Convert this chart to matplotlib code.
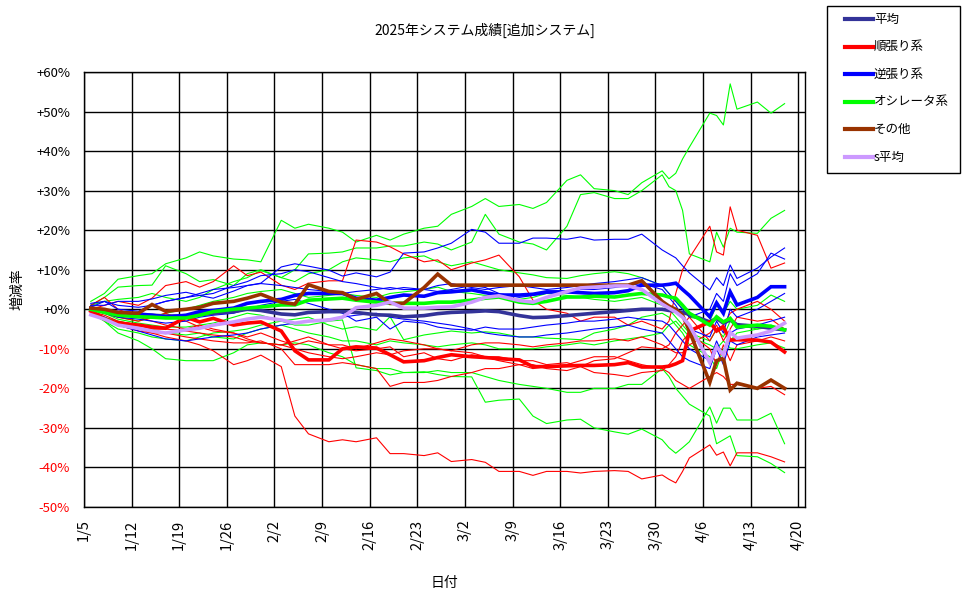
import matplotlib

matplotlib.use("Agg")
import matplotlib.pyplot as plt
import pandas as pd
from matplotlib.lines import Line2D
from matplotlib.patches import Rectangle
from matplotlib.ticker import FuncFormatter

plt.rcParams["font.family"] = ["Noto Sans CJK JP", "DejaVu Sans"]

# sample dates (2025), roughly every other trading day, daily in early April
dates = [
    "1/6", "1/8", "1/10", "1/13", "1/15", "1/17", "1/20", "1/22", "1/24",
    "1/27", "1/29", "1/31", "2/3", "2/5", "2/7", "2/10", "2/12", "2/14",
    "2/17", "2/19", "2/21", "2/24", "2/26", "2/28", "3/3", "3/5", "3/7",
    "3/10", "3/12", "3/14", "3/17", "3/19", "3/21", "3/24", "3/26", "3/28",
    "3/31", "4/1", "4/2", "4/3", "4/4", "4/7", "4/8", "4/9", "4/10", "4/11",
    "4/14", "4/16", "4/18",
]
tick_labels = ["1/5", "1/12", "1/19", "1/26", "2/2", "2/9", "2/16", "2/23",
               "3/2", "3/9", "3/16", "3/23", "3/30", "4/6", "4/13", "4/20"]

# thick lines: category averages (%)
avg_all = [0.0, -0.5, -1.0, -1.4, -1.5, -1.7, -1.7, -1.4, -1.0, -0.6, 0.0, -0.3,
           -1.2, -1.4, -0.8, -0.6, -0.6, -0.8, -1.4, -1.5, -1.9, -1.6, -1.1, -0.8,
           -0.6, -0.4, -0.6, -1.6, -2.1, -2.0, -1.6, -1.3, -1.0, -0.6, -0.3, 0.0,
           0.0, -0.3, -0.5, -0.8, -1.3, -3.2, -2.3, -3.5, -2.7, -3.9,
           -4.3, -4.8, -5.2]
avg_trend = [-0.5, -2.5, -3.5, -4.0, -4.5, -4.8, -2.0, -3.2, -2.3, -4.0, -3.5, -3.2,
             -5.5, -10.5, -12.8, -12.8, -10.0, -9.5, -9.8, -11.5, -13.3, -13.0, -12.2, -11.5,
             -12.0, -12.2, -12.5, -12.8, -14.5, -14.5, -14.3, -14.2, -14.2, -14.0, -13.5, -14.6,
             -14.6, -14.4, -13.8, -13.0, -5.5, -3.2, -5.5, -4.5, -7.8, -7.7,
             -7.8, -8.3, -10.8]
avg_counter = [0.3, -0.3, -0.8, -1.2, -1.5, -2.0, -1.5, -0.6, -0.3, 0.3, 1.5, 2.0,
               2.5, 3.5, 4.0, 4.0, 4.0, 2.8, 2.3, 3.0, 3.6, 3.3, 4.2, 4.4,
               4.9, 4.2, 3.6, 3.6, 3.8, 4.4, 4.4, 4.2, 4.0, 4.2, 4.7, 6.1,
               6.1, 6.3, 6.6, 5.0, 3.5, -1.9, 1.6, -1.0, 4.4, 1.1,
               3.0, 5.7, 5.7]
avg_osc = [0.0, -0.8, -1.5, -1.9, -2.0, -2.2, -2.2, -1.5, -0.6, 0.0, 0.3, 0.6,
           1.1, 1.1, 2.3, 2.6, 2.8, 2.3, 1.8, 1.5, 1.5, 1.5, 1.8, 1.8,
           2.3, 2.8, 3.1, 1.8, 1.5, 2.0, 3.1, 3.1, 3.3, 3.1, 3.6, 4.0,
           3.6, 3.1, 2.8, 1.0, -1.0, -4.0, -1.9, -3.2, -2.3, -4.5,
           -4.0, -4.3, -5.2]
avg_other = [0.3, 0.0, -0.8, -1.0, 1.2, -0.5, 0.0, 0.5, 1.5, 2.0, 2.8, 3.8,
             1.8, 1.3, 6.2, 4.5, 4.2, 2.5, 4.0, 1.5, 1.5, 5.5, 8.9, 6.1,
             6.1, 6.1, 6.1, 6.1, 6.1, 6.1, 6.1, 6.1, 6.1, 6.1, 6.1, 7.2,
             2.0, 0.8, 0.0, -1.5, -5.5, -18.5, -13.0, -12.4, -20.4, -18.7,
             -20.0, -17.9, -20.0]
avg_s = [-1.4, -2.5, -4.0, -4.8, -5.5, -6.0, -5.2, -4.8, -4.0, -3.2, -2.5, -2.0,
         -2.7, -3.5, -3.0, -2.7, -2.0, 0.4, 1.0, 1.8, 0.3, 0.3, 0.5, 0.6,
         1.8, 3.0, 3.4, 2.2, 1.8, 3.0, 4.5, 5.4, 5.6, 5.9, 5.9, 5.0,
         1.3, 0.3, -0.7, -2.0, -4.0, -13.5, -9.5, -11.5, -5.8, -7.3,
         -6.5, -5.5, -3.5]

# thin lines: individual systems (%)
osc_1 = [2, 4, 7.6, 8.5, 9, 11.5, 13, 14.5, 13.5, 12.7, 12.5, 12,
         22.5, 20.5, 21.5, 20.5, 19.5, 17, 18.7, 17.5, 19, 20.5, 21, 24,
         26, 28, 26, 26.5, 25.5, 27, 32.6, 34, 30.5, 30, 29, 32,
         35, 33, 34.4, 38, 41, 49.6, 49, 46.6, 57, 50.6, 52.4, 49.6, 52]
osc_2 = [1, 3, 5.6, 6, 6.1, 11, 9, 7, 7.5, 6, 9, 10,
         8, 10, 14, 14.2, 14.5, 15.5, 15.5, 16, 16, 17, 16.5, 15,
         17, 24, 19, 17, 16.5, 15, 21, 29, 29.5, 28, 28, 30,
         34, 31, 30, 25, 14, 12, 19.5, 15.7, 20.5, 19.5, 19.2, 23, 25]
osc_3 = [-1, -3, -5, -6, -7, -7.5, -8, -7, -6, -5.5, -5, -4,
         -3, -4, -4, -3, -2.7, -14.8, -15.5, -16.6, -16, -15.8, -16.5, -17,
         -17.1, -23.5, -23, -22.7, -27, -28.9, -28, -27.8, -30, -31, -31.6, -30.3,
         -33, -35, -36.4, -35, -33.5, -24.7, -28.8, -25, -25, -28, -28, -26.3, -34]
osc_4 = [0, -3, -6, -8, -10, -12.5, -13, -13, -13, -11, -9, -8.5,
         -9, -8.5, -9, -11, -12, -14, -15, -15, -16, -16, -15.5, -16,
         -16, -17, -18, -19, -19.5, -20, -21, -21, -20, -20, -19, -19,
         -15, -17, -20, -22, -24, -27, -34, -33, -32, -37, -37.3, -39, -41.3]
osc_5 = [-1, -2, -3, -4, -5, -6, -6.5, -6, -7, -7.5, -6, -5,
         -4, -5, -6, -7, -8, -8, -9, -8, -8.5, -9, -9.5, -9,
         -8.5, -9, -10, -10, -10, -9.5, -9, -8.5, -9, -8, -7.5, -7,
         -6, -4, -3, -5, -7, -9, -10, -8, -9.8, -10, -9, -8.5, -9.8]
osc_6 = [1, 2, 2.5, 3, 4, 3, 2, 3, 5, 7, 8, 9.8,
         8, 7, 9, 10, 12, 13, 12.5, 12, 13, 13.5, 12, 11,
         12, 11, 10, 9.2, 8.7, 8, 7.8, 8.5, 9, 9.5, 9, 8,
         6, 4, 2, 0, -2, -3, 1, -1, 2, 0, 1, 3.6, 2]
osc_7 = [0, -1, -2, -3, -2, -1, 0, 1, 2, 3, 4, 4.5,
         5, 4, 3, 3.5, 4, 3.5, 3, 4, 4.4, 5, 5.6, 4.5,
         4, 3.5, 3, 2.5, 3, 4, 3.5, 3, 2.5, 2, 2.5, 3,
         1, 0, -2, -4, -6, -8, -5, -7, -3, -4, -5, -4.5, -5]
osc_8 = [0.5, -1, -2.5, -3.5, -4, -4.5, -4.5, -4, -3.5, -2, -1, -1.5,
         -3, -2.5, -2, -4, -5, -4.4, -5.3, -1.9, -7.7, -6.5, -6, -5.5,
         -6, -5.7, -6, -7, -7, -7.3, -7.5, -7.7, -6, -5, -4, -2,
         -1, -2, -4, -6, -9, -12, -15, -10, -8, -6, -5, -4, -5.5]
trend_1 = [0, -2, -3.5, -5, -6, -7, -8, -9, -10.5, -14, -13, -11.6,
           -14.5, -27, -31.5, -33.5, -33, -33.5, -32.5, -36.5, -36.5, -37, -36.3, -38.5,
           -38, -38.7, -41, -41, -42, -41, -41, -41.4, -41, -40.8, -41, -42.9,
           -41.9, -43, -43.9, -41, -37.6, -34.3, -36.9, -36.1, -39.6, -36.3, -36.3, -37.3, -38.6]
trend_2 = [-1, -2.5, -4, -5.5, -6, -6, -7, -7.5, -8, -8.5, -8.5, -8,
           -10, -14, -14, -14, -13.5, -14, -15, -19.5, -18.5, -18.5, -18, -17,
           -16, -15, -15, -14, -15, -14.5, -14, -13, -12, -12, -13, -14,
           -15, -16, -18, -19, -20, -17, -16, -17, -19, -19, -20, -19.5, -21.6]
trend_3 = [0, 1, 2, 1, 2.8, 6, 7, 5.6, 7, 11, 8.5, 9.4,
           6.1, 5, 6.6, 7.2, 7.2, 17.5, 17, 15.8, 14, 12, 12.5, 10,
           11.7, 12.5, 13.7, 8.2, 2.3, 0, -1, -3, -2, -2, -4, -3,
           -5, -3, 4, 10, 13, 21, 14.5, 13.7, 25.9, 20, 18.7, 10.4, 11.7]
trend_4 = [1, 3, 0, -2, -3, -4, -5, -4, -5, -6, -7, -6,
           -8, -9, -8, -9, -9, -10, -8.5, -7.5, -8, -9, -10, -10.5,
           -9, -8.5, -8.5, -9, -9.5, -9, -8.5, -8, -8, -7.5, -8, -7,
           -9, -10, -11, -11, -9, -6, -4, -8, -5, -2, -3, -2.5, -5]
trend_5 = [-0.5, -1.5, -3, -4, -5, -5, -5.5, -6, -6.5, -7, -8, -8.5,
           -9, -8, -7, -9, -10, -10.5, -10, -9.5, -12, -11, -12.5, -13,
           -11.5, -12, -13, -14, -14, -15, -15.5, -14.5, -13, -12.5, -11, -9.5,
           -10, -9, -6, -4, -2, -8, -5, -4, -1, 0, 2, 0, -3]
trend_6 = [0, -1, -2, -3, -2, -1, -3, -4.5, -5.5, -6, -7.5, -8.5,
           -9, -10, -11, -12, -12.5, -12, -11, -11.5, -10.5, -10, -10, -10.5,
           -11, -12, -12, -13, -13, -14, -13.5, -14.5, -16, -16.5, -17, -16,
           -15.5, -14, -12, -8, -6, -10, -14, -9, -13, -9, -8, -7, -8]
counter_1 = [1, 1, 2, 2, 2.6, 3.5, 4.3, 3.5, 2.8, 4.6, 6, 6.6,
             10.7, 11.5, 10.9, 9.9, 8.4, 9.2, 8.2, 9.4, 14.2, 14.5, 15.5, 16.7,
             20.2, 19.5, 16.7, 16.7, 18, 18, 17.7, 18.3, 17.5, 17.7, 17.7, 19,
             15, 14, 13, 11, 9.2, 4.9, 8, 6, 11.2, 7.8, 10.4, 13.2, 15.5]
counter_2 = [0.5, 2, 1, 0.5, 1, 2, 3, 4, 5, 5.5, 6, 6.5,
             6, 5.5, 5, 4.5, 4, 4.5, 5, 5.5, 5, 5, 6, 6.5,
             5.5, 5, 5.5, 6, 5.5, 5, 5.5, 6, 6.5, 7, 7.5, 8,
             6, 4, 2, 0, -2, 0, 4, 2, 9, 6, 9, 14.2, 12.7]
counter_3 = [0, -1, -2, -2.5, -3, -3.5, -3, -2, -1.5, -1, 0, 1,
             2, 2.5, 1.5, 0, -1, -3, -2, -5, -3, -3.5, -4.5, -5,
             -5.3, -4.5, -5, -5, -4.5, -4, -3.5, -3, -3, -2.5, -2, -2.5,
             -3, -4, -6, -8, -10, -13, -8, -12, -6, -5, -4, -3, -2]
counter_4 = [-1, -2, -4, -5.5, -6.5, -7.5, -8, -7.5, -7, -6.5, -6, -5,
             -4, -3.5, -3, -2.5, -2, -1.5, -1, -2, -2.5, -3, -3.5, -4,
             -5, -6, -6.5, -7, -7, -6.5, -6, -5.5, -5, -4.5, -4, -5,
             -6, -8, -10, -12, -13, -15, -10, -14, -8, -9, -7, -6.5, -6]
counter_5 = [1.5, 2, 0, -0.5, 1, 2, 3, 3.5, 4, 6, 7, 8.5,
             9, 10, 9.5, 8, 7, 6.5, 5.5, 5, 5.5, 5, 4.5, 5,
             6, 5.5, 4, 3, 3.5, 4, 4.5, 5, 5, 5.5, 6, 6.5,
             5, 3, 1, -2, -5, -7, -3, -6, 0, -2, 0, 2, 4]

legend_labels = ["平均", "順張り系", "逆張り系", "オシレータ系", "その他", "s平均"]
colors = {"平均": "#333399", "順張り系": "#FF0000", "逆張り系": "#0000FF",
          "オシレータ系": "#00FF00", "その他": "#993300", "s平均": "#CC99FF"}

start = pd.Timestamp("2025-01-05")
x = [(pd.Timestamp(f"2025/{d}") - start).days for d in dates]

W, H = 970, 599
fig = plt.figure(figsize=(W / 100, H / 100), dpi=100)
ax = fig.add_axes([84 / W, 92 / H, 721 / W, 435 / H])

thin = [
    ("オシレータ系", [osc_1, osc_2, osc_3, osc_4, osc_5, osc_6, osc_7, osc_8]),
    ("順張り系", [trend_1, trend_2, trend_3, trend_4, trend_5, trend_6]),
    ("逆張り系", [counter_1, counter_2, counter_3, counter_4, counter_5]),
]
for name, group in thin:
    for values in group:
        ax.plot(x, values, color=colors[name], linewidth=0.8, zorder=3)

thick = [("平均", avg_all), ("順張り系", avg_trend), ("逆張り系", avg_counter),
         ("オシレータ系", avg_osc), ("その他", avg_other), ("s平均", avg_s)]
for name, values in thick:
    ax.plot(x, values, color=colors[name], linewidth=2.6, zorder=4,
            solid_joinstyle="miter")

ax.set_xlim(0, 106)
ax.set_ylim(-50, 60)
ax.set_xticks(range(0, 106, 7), tick_labels, rotation=90)
ax.set_yticks(range(-50, 61, 10))
ax.yaxis.set_major_formatter(FuncFormatter(lambda v, _: f"{v:+.0f}%"))
ax.tick_params(axis="both", length=0)
ax.tick_params(axis="y", pad=10, labelsize=9.5)
ax.tick_params(axis="x", pad=9, labelsize=10.5)
for value, label in zip(range(-50, 61, 10), ax.get_yticklabels()):
    label.set_color("#FF0000" if value < 0 else "black")
ax.grid(True, color="black", linewidth=1.0)
ax.set_axisbelow(True)
for spine in ax.spines.values():
    spine.set_linewidth(1.0)

# axis titles placed at the reference pixel positions
ax.set_xlabel("日付", fontsize=10)
ax.xaxis.label.set_verticalalignment("center")
ax.xaxis.set_label_coords(0.5, (16 - 92) / 435)
ax.set_ylabel("増減率", fontsize=10)
ax.yaxis.label.set_verticalalignment("center")
ax.yaxis.set_label_coords((17 - 84) / 721, 0.5)
fig.text(0.5, 1 - 30 / H, "2025年システム成績[追加システム]", ha="center",
         va="center", fontsize=10)

# legend box at the right, drawn in figure pixels
fig.add_artist(Rectangle((827 / W, 1 - 173 / H), 133 / W, 167 / H,
                         transform=fig.transFigure, facecolor="white",
                         edgecolor="black", linewidth=1.0))
for i, name in enumerate(legend_labels):
    yy = 1 - (19 + 27.6 * i) / H
    fig.add_artist(Line2D([845 / W, 873 / W], [yy, yy], transform=fig.transFigure,
                          color=colors[name], linewidth=3))
    fig.text(874 / W, yy, name, ha="left", va="center", fontsize=9)

fig.savefig("out.png", dpi=100, facecolor="white")
